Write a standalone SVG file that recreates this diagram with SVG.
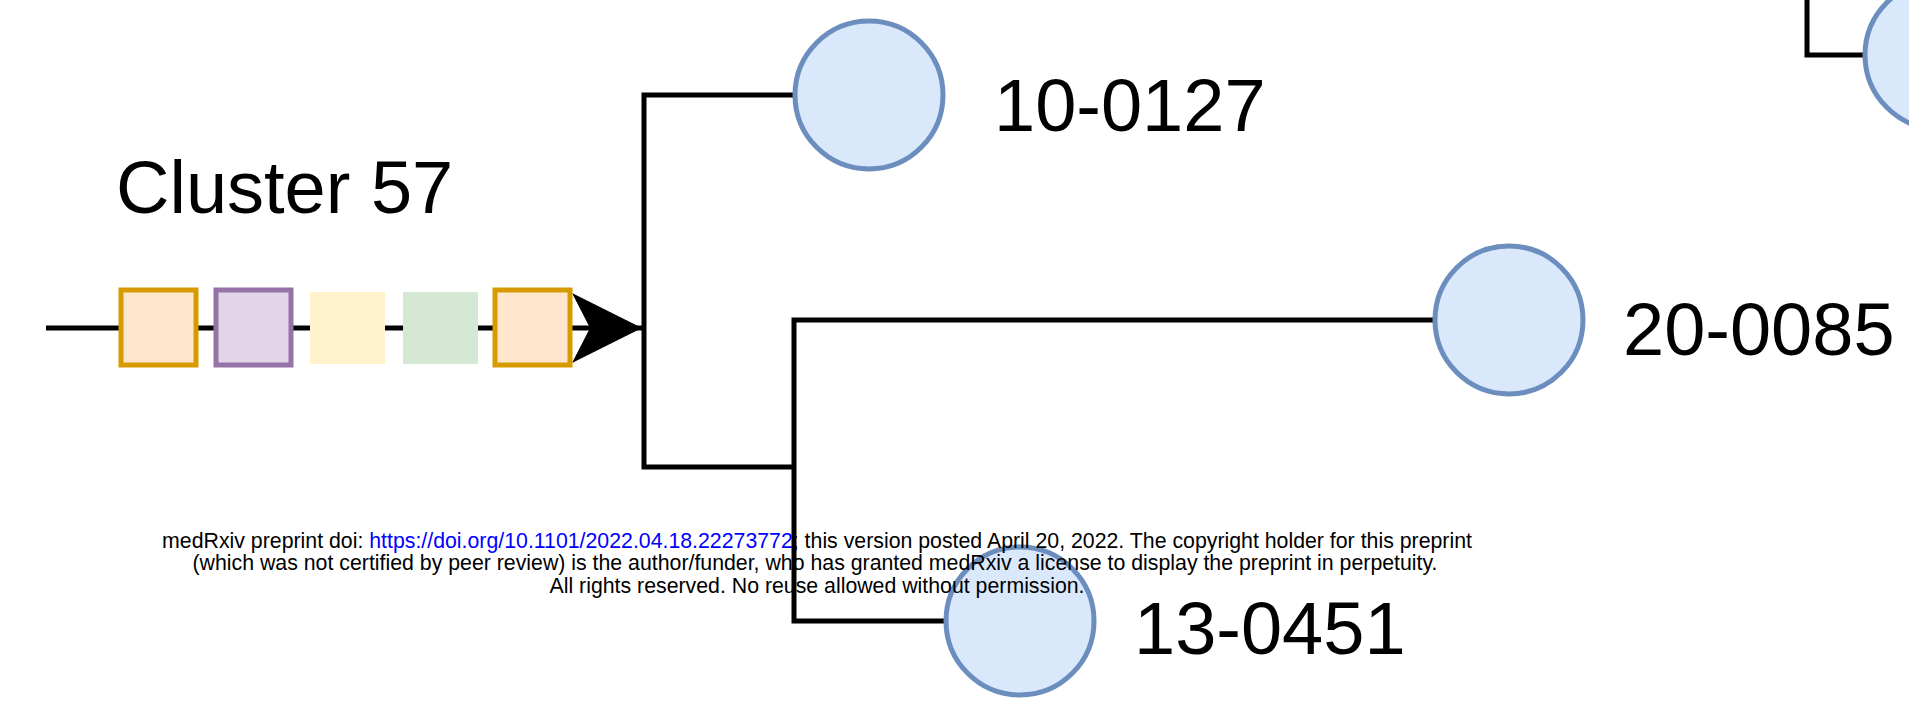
<svg xmlns="http://www.w3.org/2000/svg" width="1909" height="702" viewBox="0 0 1909 702">
<style>
.lbl{font-family:"Liberation Sans",Arial,sans-serif;font-size:74px;fill:#000}
.wm{font-family:"Liberation Sans",Arial,sans-serif;font-size:21.3px;fill:#000;text-anchor:middle}
.link{fill:#0000ff}
.edge{fill:none;stroke:#000;stroke-width:5}
.leaf{fill:#dae8fc;stroke:#6c8ebf;stroke-width:5}
.orange{fill:#ffe6cc;stroke:#d79b00;stroke-width:5}
.purple{fill:#e1d5e7;stroke:#9673a6;stroke-width:5}
.yellow{fill:#fff2cc}
.green{fill:#d5e8d4}
</style>
<defs>
<marker id="arrow" markerUnits="userSpaceOnUse" markerWidth="72" markerHeight="72" refX="70" refY="35" orient="auto" viewBox="0 0 72 72">
<path d="M0,0 L70,35 L0,70 L18,35 Z" fill="#000"/>
</marker>
</defs>
<g id="connectors">
<path class="edge" d="M46,328 H642" marker-end="url(#arrow)"/>
<path class="edge" d="M793,95 H644 V467 H794"/>
<path class="edge" d="M1433,320 H794 V621 H944"/>
<path class="edge" d="M1807,0 V55 H1863"/>
</g>
<g id="cluster57">
<text class="lbl" x="116" y="213">Cluster 57</text>
<rect class="orange" x="121" y="290" width="75" height="75"/>
<rect class="purple" x="216" y="290" width="75" height="75"/>
<rect class="yellow" x="310" y="292" width="75" height="72"/>
<rect class="green" x="403" y="292" width="75" height="72"/>
<rect class="orange" x="495" y="290" width="75" height="75"/>
</g>
<g id="node-10-0127">
<circle class="leaf" cx="869" cy="95" r="74"/>
<text class="lbl" x="994" y="131">10-0127</text>
</g>
<g id="node-20-0085">
<circle class="leaf" cx="1509" cy="320" r="74"/>
<text class="lbl" x="1623" y="355">20-0085</text>
</g>
<g id="node-13-0451">
<circle class="leaf" cx="1020" cy="621" r="74"/>
<text class="lbl" x="1134" y="654">13-0451</text>
</g>
<g id="node-top-right">
<circle class="leaf" cx="1939" cy="55" r="74"/>
</g>
<g id="watermark">
<text class="wm" x="817" y="548">medRxiv preprint doi: <tspan class="link">https://doi.org/10.1101/2022.04.18.22273772</tspan>; this version posted April 20, 2022. The copyright holder for this preprint</text>
<text class="wm" x="815" y="570">(which was not certified by peer review) is the author/funder, who has granted medRxiv a license to display the preprint in perpetuity.</text>
<text class="wm" x="817" y="593">All rights reserved. No reuse allowed without permission.</text>
</g>
</svg>
